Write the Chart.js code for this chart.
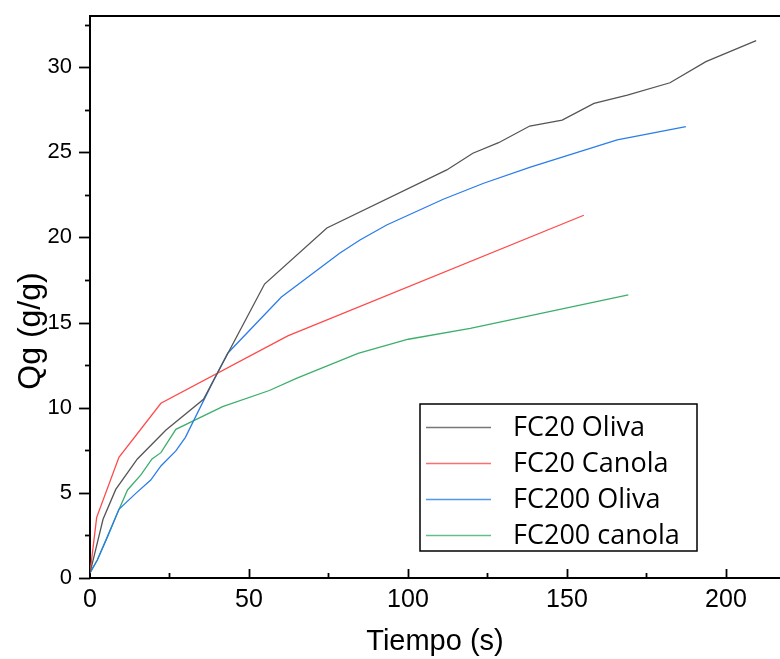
<!DOCTYPE html>
<html>
<head>
    <meta charset="utf-8">
    <script src="https://cdn.jsdelivr.net/npm/chart.js@4.4.0/dist/chart.umd.min.js"></script>
    <title>Qg vs Tiempo</title>
    <style>
        html, body { margin: 0; padding: 0; background: #fff; }
        #wrap { width: 780px; height: 659px; }
    </style>
</head>
<body>
<div id="wrap"><canvas id="chart" width="780" height="659"></canvas></div>
<script>
// data: tiempo (s) and Qg (g/g)
const seriesNames = ['FC20 Oliva', 'FC20 Canola', 'FC200 Oliva', 'FC200 canola'];

const fc20OlivaT = [0, 4.1, 8.1, 14.9, 23.9, 35.7, 54.9, 74.5, 112.2, 120.4, 128.5, 138.3, 148.5, 158.5, 169, 182.4, 193.7, 209.5];
const fc20OlivaQ = [0.3, 3.45, 5.2, 6.99, 8.69, 10.49, 17.26, 20.55, 23.96, 24.94, 25.56, 26.54, 26.89, 27.87, 28.36, 29.08, 30.32, 31.55];

const fc20CanolaT = [0, 2.1, 9.1, 22.3, 62.2, 155.3];
const fc20CanolaQ = [0.3, 3.56, 7.09, 10.26, 14.22, 21.3];

const fc200OlivaT = [0, 2.3, 5.5, 9.1, 14.4, 19.1, 22.3, 27, 30, 38.6, 43.3, 60.2, 78.5, 84.9, 93.3, 111.1, 123.8, 138.5, 165.8, 187.4];
const fc200OlivaQ = [0.3, 1.06, 2.43, 4.03, 4.97, 5.75, 6.58, 7.46, 8.26, 11.5, 13.2, 16.5, 19.07, 19.85, 20.73, 22.24, 23.18, 24.12, 25.72, 26.5];

const fc200CanolaT = [0, 2.3, 5.5, 8.6, 11.8, 16, 19.5, 22.3, 27, 41.7, 56.4, 64.9, 84.3, 100.1, 119.6, 169.3];
const fc200CanolaQ = [0.3, 1.06, 2.43, 3.8, 5.17, 6.05, 6.99, 7.36, 8.73, 10.06, 11.01, 11.72, 13.19, 14.02, 14.66, 16.62];

const xTicks = [0, 50, 100, 150, 200];
const yTicks = [0, 5, 10, 15, 20, 25, 30];

const colors = ['#555555', '#ff4a4a', '#2b7de9', '#3caf6b'];

function pairs(t, q) {
    return t.map((v, i) => ({ x: v, y: q[i] }));
}

const allT = [fc20OlivaT, fc20CanolaT, fc200OlivaT, fc200CanolaT];
const allQ = [fc20OlivaQ, fc20CanolaQ, fc200OlivaQ, fc200CanolaQ];

const datasets = seriesNames.map((name, i) => ({
    label: name,
    data: pairs(allT[i], allQ[i]),
    borderColor: colors[i],
    backgroundColor: colors[i],
    borderWidth: 1.3,
    pointRadius: 0,
    tension: 0,
    fill: false
}));

// minor/major tick marks, top frame line, y title and the boxed legend
const framePlugin = {
    id: 'frame',
    afterDraw(chart) {
        const ctx = chart.ctx;
        const area = chart.chartArea;
        const xs = chart.scales.x;
        const ys = chart.scales.y;
        ctx.save();
        ctx.strokeStyle = '#000';
        ctx.lineWidth = 2;
        ctx.beginPath();
        ctx.moveTo(area.left - 1, area.top);
        ctx.lineTo(area.right, area.top);
        ctx.stroke();

        ctx.lineWidth = 1.8;
        for (let v = 0; v <= ys.max; v += 2.5) {
            const py = Math.round(ys.getPixelForValue(v)) + 0.5;
            const len = v % 5 === 0 ? 11 : 5;
            ctx.beginPath();
            ctx.moveTo(area.left, py);
            ctx.lineTo(area.left - len, py);
            ctx.stroke();
        }
        for (let v = 25; v <= xs.max; v += 25) {
            const px = Math.round(xs.getPixelForValue(v)) + 0.5;
            const len = v % 50 === 0 ? 9 : 5;
            ctx.beginPath();
            ctx.moveTo(px, area.bottom);
            ctx.lineTo(px, area.bottom - len);
            ctx.stroke();
        }

        // y axis title
        ctx.save();
        ctx.translate(31, 331);
        ctx.rotate(-Math.PI / 2);
        ctx.fillStyle = '#000';
        ctx.font = '32px "Liberation Sans"';
        ctx.textAlign = 'center';
        ctx.textBaseline = 'middle';
        ctx.fillText('Qg (g/g)', 0, 0);
        ctx.restore();

        // legend box
        const bx = 420, by = 404, bw = 277, bh = 147;
        ctx.fillStyle = '#fff';
        ctx.fillRect(bx, by, bw, bh);
        ctx.lineWidth = 1.5;
        ctx.strokeStyle = '#000';
        ctx.strokeRect(bx, by, bw, bh);
        ctx.font = '27px "Open Sans"';
        ctx.textBaseline = 'middle';
        ctx.textAlign = 'left';
        chart.data.datasets.forEach((ds, i) => {
            const ry = 427 + i * 36;
            ctx.strokeStyle = ds.borderColor;
            ctx.globalAlpha = 0.8;
            ctx.lineWidth = 1.5;
            ctx.beginPath();
            ctx.moveTo(426, ry + 0.5);
            ctx.lineTo(491, ry + 0.5);
            ctx.stroke();
            ctx.globalAlpha = 1;
            ctx.fillStyle = '#000';
            ctx.fillText(ds.label, 513, ry + 1);
        });
        ctx.restore();
    }
};

new Chart(document.getElementById('chart'), {
    type: 'line',
    data: { datasets: datasets },
    options: {
        responsive: false,
        animation: false,
        layout: { padding: { top: 16, right: 0, left: 0, bottom: 0 } },
        plugins: {
            legend: { display: false },
            tooltip: { enabled: false }
        },
        scales: {
            x: {
                type: 'linear',
                min: 0,
                max: 217,
                afterBuildTicks: (s) => { s.ticks = xTicks.map(v => ({ value: v })); },
                afterFit: (s) => { s.height = 81; s.paddingLeft = 0; s.paddingRight = 0; },
                grid: { display: false, drawTicks: false },
                border: { display: true, color: '#000', width: 2 },
                ticks: {
                    padding: 7,
                    color: '#000',
                    font: { family: '"Liberation Sans Narrow", "Liberation Sans"', size: 25 },
                    maxRotation: 0
                },
                title: {
                    display: true,
                    text: 'Tiempo (s)',
                    color: '#000',
                    font: { family: 'Liberation Sans', size: 29 },
                    padding: { top: 0, bottom: 0 }
                }
            },
            y: {
                type: 'linear',
                min: 0,
                max: 33,
                afterBuildTicks: (s) => { s.ticks = yTicks.map(v => ({ value: v })); },
                afterFit: (s) => { s.width = 90; s.paddingTop = 0; s.paddingBottom = 0; },
                grid: { display: false, drawTicks: false },
                border: { display: true, color: '#000', width: 2 },
                ticks: {
                    padding: 18,
                    color: '#000',
                    font: { family: 'Liberation Sans', size: 22 }
                }
            }
        }
    },
    plugins: [framePlugin]
});
</script>
</body>
</html>
